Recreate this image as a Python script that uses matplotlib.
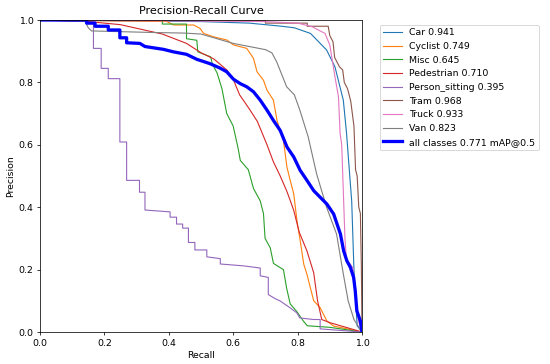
import numpy as np
import matplotlib
matplotlib.use("Agg")
import matplotlib.pyplot as plt

# values (recall, precision)
car_r = [0, 0.5, 0.65, 0.75, 0.79, 0.84, 0.89, 0.916, 0.942, 0.952, 0.962, 0.968, 0.975, 0.985, 1.0]
car_p = [1.0, 0.995, 0.99, 0.98, 0.975, 0.957, 0.904, 0.85, 0.743, 0.637, 0.5, 0.42, 0.2, 0.02, 0.0]

cyclist_r = [0, 0.394, 0.415, 0.477, 0.497, 0.508, 0.539, 0.58, 0.601, 0.642, 0.663, 0.674, 0.694,
             0.705, 0.725, 0.736, 0.756, 0.767, 0.777, 0.788, 0.798, 0.808, 0.819, 0.829, 0.85,
             0.87, 0.891, 0.912, 1.0]
cyclist_p = [1.0, 0.995, 0.984, 0.984, 0.973, 0.957, 0.946, 0.936, 0.92, 0.909, 0.877, 0.834, 0.807,
             0.775, 0.743, 0.678, 0.614, 0.528, 0.486, 0.443, 0.357, 0.293, 0.218, 0.185, 0.1,
             0.078, 0.035, 0.019, 0.0]

misc_r = [0, 0.38, 0.38, 0.455, 0.455, 0.487, 0.49, 0.53, 0.535, 0.55, 0.565, 0.58, 0.60, 0.615,
          0.622, 0.647, 0.663, 0.684, 0.694, 0.699, 0.715, 0.725, 0.74, 0.756, 0.766, 0.777, 0.798,
          0.818, 0.83, 0.9, 1.0]
misc_p = [1.0, 1.0, 0.987, 0.987, 0.94, 0.935, 0.898, 0.882, 0.86, 0.83, 0.78, 0.70, 0.66, 0.59,
          0.55, 0.52, 0.46, 0.42, 0.38, 0.30, 0.27, 0.22, 0.21, 0.2, 0.14, 0.09, 0.065,
          0.035, 0.02, 0.015, 0.0]

ped_r = [0, 0.15, 0.25, 0.38, 0.455, 0.5, 0.54, 0.58, 0.60, 0.62, 0.65, 0.675, 0.705, 0.725,
         0.746, 0.767, 0.788, 0.805, 0.829, 0.85, 0.862, 0.875, 0.9, 1.0]
ped_p = [1.0, 0.995, 0.985, 0.955, 0.925, 0.895, 0.875, 0.84, 0.81, 0.76, 0.715, 0.675, 0.60, 0.545,
         0.50, 0.45, 0.39, 0.32, 0.26, 0.19, 0.1, 0.04, 0.03, 0.0]

sit_r = [0, 0.166, 0.166, 0.19, 0.19, 0.212, 0.212, 0.248, 0.248, 0.269, 0.269, 0.309, 0.309,
         0.326, 0.326, 0.404, 0.404, 0.424, 0.424, 0.443, 0.443, 0.461, 0.461, 0.481, 0.481,
         0.518, 0.518, 0.56, 0.56, 0.632, 0.684, 0.684, 0.709, 0.709, 0.73, 0.745, 0.776, 0.797,
         0.807, 0.85, 0.87, 0.87, 1.0]
sit_p = [1.0, 1.0, 0.909, 0.909, 0.845, 0.845, 0.812, 0.812, 0.609, 0.609, 0.486, 0.486, 0.448,
         0.448, 0.391, 0.385, 0.368, 0.368, 0.346, 0.346, 0.333, 0.333, 0.287, 0.287, 0.263,
         0.263, 0.241, 0.235, 0.218, 0.212, 0.205, 0.18, 0.175, 0.12, 0.107, 0.1, 0.078, 0.062,
         0.045, 0.04, 0.04, 0.01, 0.0]

tram_r = [0, 0.70, 0.70, 0.83, 0.83, 0.895, 0.90, 0.91, 0.915, 0.925, 0.93, 0.94, 0.945, 0.955,
          0.96, 0.965, 0.97, 0.975, 0.98, 0.985, 0.99, 0.995, 0.998, 1.0]
tram_p = [1.0, 1.0, 0.99, 0.99, 0.98, 0.98, 0.95, 0.93, 0.88, 0.86, 0.85, 0.84, 0.80, 0.78,
          0.76, 0.74, 0.70, 0.66, 0.52, 0.50, 0.40, 0.38, 0.21, 0.0]

truck_r = [0, 0.7, 0.8, 0.844, 0.87, 0.885, 0.90, 0.911, 0.916, 0.927, 0.932, 0.937, 0.942, 0.947,
           0.952, 0.962, 0.972, 0.98, 0.989, 1.0]
truck_p = [1.0, 0.995, 0.99, 0.979, 0.965, 0.957, 0.92, 0.85, 0.818, 0.753, 0.636, 0.60, 0.45, 0.30,
           0.23, 0.22, 0.205, 0.12, 0.035, 0.0]

van_r = [0, 0.14, 0.15, 0.16, 0.35, 0.45, 0.5, 0.55, 0.6, 0.65, 0.70, 0.72, 0.735, 0.766, 0.79,
         0.807, 0.833, 0.859, 0.89, 0.921, 0.942, 0.957, 0.975, 1.0]
van_p = [1.0, 0.995, 0.975, 0.965, 0.96, 0.958, 0.955, 0.94, 0.925, 0.915, 0.905, 0.895, 0.866,
         0.786, 0.76, 0.711, 0.625, 0.507, 0.40, 0.314, 0.186, 0.1, 0.04, 0.0]

all_r = [0, 0.145, 0.145, 0.171, 0.171, 0.212, 0.212, 0.248, 0.248, 0.269, 0.269, 0.31, 0.326,
         0.383, 0.414, 0.455, 0.487, 0.528, 0.559, 0.58, 0.601, 0.622, 0.642, 0.663, 0.684, 0.705,
         0.725, 0.746, 0.767, 0.788, 0.808, 0.829, 0.85, 0.87, 0.891, 0.912, 0.933, 0.943, 0.953,
         0.964, 0.974, 0.979, 0.984, 0.995, 1.0]
all_p = [1.0, 1.0, 0.99, 0.99, 0.98, 0.98, 0.968, 0.968, 0.943, 0.943, 0.927, 0.925, 0.915,
         0.906, 0.898, 0.89, 0.874, 0.86, 0.846, 0.834, 0.81, 0.796, 0.786, 0.77, 0.743, 0.711,
         0.678, 0.646, 0.593, 0.561, 0.518, 0.486, 0.453, 0.432, 0.41, 0.378, 0.314, 0.26, 0.228,
         0.207, 0.175, 0.132, 0.068, 0.035, 0.0]

names = ["Car", "Cyclist", "Misc", "Pedestrian", "Person_sitting", "Tram", "Truck", "Van"]
ap50 = [0.941, 0.749, 0.645, 0.710, 0.395, 0.968, 0.933, 0.823]
map50 = 0.771
colors = ["#1f77b4", "#ff7f0e", "#2ca02c", "#d62728", "#9467bd", "#8c564b", "#e377c2", "#7f7f7f"]

curves = [(car_r, car_p), (cyclist_r, cyclist_p), (misc_r, misc_p), (ped_r, ped_p),
          (sit_r, sit_p), (tram_r, tram_p), (truck_r, truck_p), (van_r, van_p)]

dpi = 67.2
fig, ax = plt.subplots(1, 1, figsize=(550 / dpi, 364 / dpi), dpi=dpi)
fig.subplots_adjust(left=40 / 550, right=362 / 550, bottom=1 - 332 / 364, top=1 - 20 / 364)

for (r, p), name, ap, c in zip(curves, names, ap50, colors):
    ax.plot(r, p, linewidth=1.2, color=c, label=f"{name} {ap:.3f}")
ax.plot(all_r, all_p, linewidth=3.5, color="blue", label=f"all classes {map50:.3f} mAP@0.5")

ax.set_xlabel("Recall")
ax.set_ylabel("Precision")
ax.set_xlim(0, 1)
ax.set_ylim(0, 1)
ax.legend(bbox_to_anchor=(1.04, 1), loc="upper left")
ax.set_title("Precision-Recall Curve")

fig.savefig("out.png", dpi=dpi)
